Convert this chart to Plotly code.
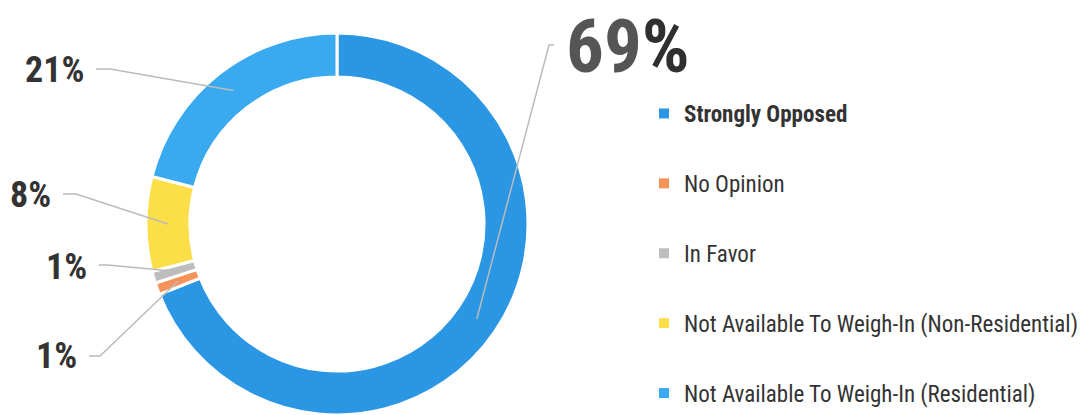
import math
import plotly.graph_objects as go

# ---- data ----
categories = ["Strongly Opposed", "No Opinion", "In Favor",
              "Not Available To Weigh-In (Non-Residential)",
              "Not Available To Weigh-In (Residential)"]
values = [69, 1, 1, 8, 21]
value_labels = ["69%", "1%", "1%", "8%", "21%"]

# ---- styles ----
colors = ["#2B96E4", "#F5935A", "#BDBDBD", "#FCDE48", "#3AAAF0"]
FONT = "Roboto, DejaVu Sans Condensed"
COND = "font-stretch:condensed;font-stretch:75%"
W, H = 1091, 415

# pie geometry (px)
CX, CY, R = 337, 224, 191
HOLE = 0.77
RMID = R * (1 + HOLE) / 2

fig = go.Figure()
fig.add_trace(go.Pie(
    labels=categories, values=values, sort=False, direction="clockwise",
    rotation=0, hole=HOLE, showlegend=False, textinfo="none", hoverinfo="label+percent",
    marker=dict(colors=colors, line=dict(color="white", width=3)),
    domain=dict(x=[(CX - R) / W, (CX + R) / W], y=[(H - CY - R) / H, (H - CY + R) / H]),
))

# legend entries
for i, (c, col) in enumerate(zip(categories, colors)):
    inner = f"<span style='{COND}'>{c}</span>"
    name = f"<b>{inner}</b>" if i == 0 else inner
    fig.add_trace(go.Scatter(x=[None], y=[None], mode="markers", name=name,
                             legendgroup=f"g{i}",
                             marker=dict(symbol="square", size=10, color=col)))

def px2paper(x, y):
    return x / W, 1 - y / H

# label layout (px): text anchor, elbow point
label_layout = {
    0: dict(text_xy=(564, 46), elbow=(549, 45), anchor="left"),
    1: dict(text_xy=(79, 356), elbow=(100, 356), anchor="right"),
    2: dict(text_xy=(89, 267), elbow=(107, 265), anchor="right"),
    3: dict(text_xy=(53, 195), elbow=(76, 194), anchor="right"),
    4: dict(text_xy=(86, 70), elbow=(110, 69), anchor="right"),
}

total = sum(values)
cum = 0
shapes = []
annotations = []
for i, v in enumerate(values):
    ang = math.radians(360 * (cum + v / 2) / total)
    cum += v
    ex = CX + RMID * math.sin(ang)
    ey = CY - RMID * math.cos(ang)
    L = label_layout[i]
    tx, ty = L["text_xy"]
    bx, by = L["elbow"]
    sx = tx + (-10 if L["anchor"] == "left" else 10)
    p0 = px2paper(sx, by)
    p1 = px2paper(bx, by)
    p2 = px2paper(ex, ey)
    shapes.append(dict(type="path", xref="paper", yref="paper",
                       path=f"M {p0[0]} {p0[1]} L {p1[0]} {p1[1]} L {p2[0]} {p2[1]}",
                       line=dict(color="#BBBBBB", width=1.5)))
    ax, ay = px2paper(tx, ty)
    if i == 0:
        num = value_labels[i].rstrip("%")
        txt = (f"<span style='color:#555555;{COND}'>{num}</span>"
               f"<span style='color:#2f2f2f;{COND}'>%</span>")
        annotations.append(dict(x=ax, y=ay, xref="paper", yref="paper", text=f"<b>{txt}</b>",
                                showarrow=False, xanchor="left", yanchor="middle",
                                font=dict(family=FONT, size=75, color="#333333")))
    else:
        annotations.append(dict(x=ax, y=ay, xref="paper", yref="paper",
                                text=f"<b><span style='{COND}'>{value_labels[i]}</span></b>",
                                showarrow=False, xanchor="right", yanchor="middle",
                                font=dict(family=FONT, size=36, color="#333333")))

fig.update_layout(
    width=W, height=H, autosize=False, margin=dict(l=0, r=0, t=0, b=0, autoexpand=False),
    paper_bgcolor="white", plot_bgcolor="white",
    xaxis=dict(visible=False), yaxis=dict(visible=False),
    shapes=shapes, annotations=annotations,
    showlegend=True,
    legend=dict(x=644 / W, y=1 - 92 / H, xanchor="left", yanchor="top",
                font=dict(family=FONT, size=23, color="#333333"),
                tracegroupgap=37, bgcolor="rgba(0,0,0,0)", itemclick=False),
)

fig.write_html("out.html", config={"displayModeBar": False},
               post_script="document.body.style.margin='0px';document.body.style.overflow='hidden';")
